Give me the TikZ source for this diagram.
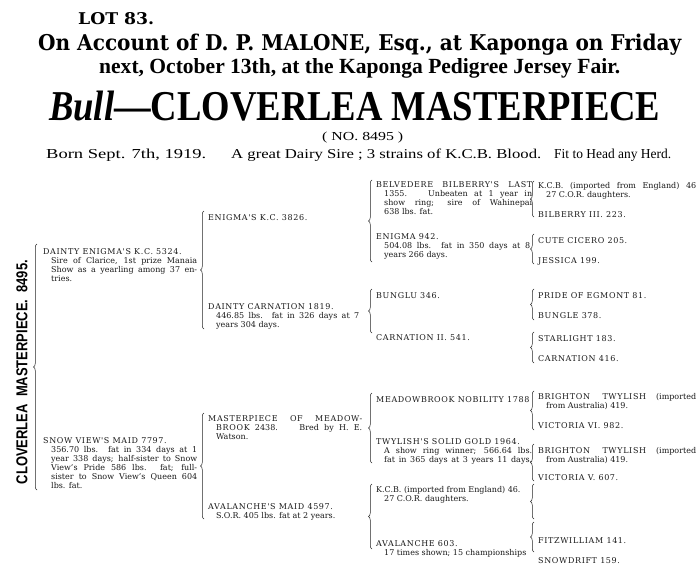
\documentclass[tikz,border=0pt]{standalone}
\usepackage{fontspec}
\usepackage{graphicx}
\setmainfont{DejaVu Serif}
\newfontfamily\pedc[LetterSpace=8]{DejaVu Serif}
\newfontfamily\libs{Liberation Serif}
\newfontfamily\libsans{Liberation Sans}
\usetikzlibrary{decorations.pathreplacing}
\newcommand{\jl}[2]{\hspace*{8pt}\makebox[#1][s]{#2}}
\newcommand{\il}[1]{\hspace*{8pt}#1}
\newcommand{\cp}[1]{{\pedc #1}}
\tikzset{
  ped/.style={font=\fontsize{8}{9}\selectfont, inner sep=0pt, anchor=north west, align=left, text=black!90},
  head/.style={inner sep=0pt, anchor=base west, text=black},
  brc/.style={decorate, decoration={brace, amplitude=3.5pt, aspect=0.5}, line width=0.5pt, draw=black!85}
}
\begin{document}
\begin{tikzpicture}[x=1pt,y=-1pt]
\fill[white] (0,0) rectangle (700,568);
\useasboundingbox (0,0) rectangle (700,568);
% headline
\node[head] (lot) at (78,24) {\resizebox{76pt}{12pt}{\bfseries LOT 83.}};
\node[head] (acc) at (38,50) {\resizebox{643pt}{16.5pt}{\bfseries On Account of D. P. MALONE, Esq., at Kaponga on Friday}};
\node[head] (nxt) at (99,73) {\resizebox{521pt}{15pt}{\libs\bfseries next, October 13th, at the Kaponga Pedigree Jersey Fair.}};
\node[head] (ttl) at (49,120) {\resizebox{611pt}{29.5pt}{\libs\bfseries{\itshape Bull}—CLOVERLEA MASTERPIECE}};
\node[head] (no) at (322,140) {\resizebox{81pt}{8.5pt}{\libs ( NO. 8495 )}};
\node[head] (born1) at (46,158) {\resizebox{160pt}{9.5pt}{\libs Born Sept. 7th, 1919.}};
\node[head] (born2) at (231,158) {\resizebox{310pt}{9.5pt}{\libs A great Dairy Sire ; 3 strains of K.C.B. Blood.}};
\node[head] (born3) at (554,158) {\resizebox{117pt}{9.5pt}{\libs Fit to Head any Herd.}};
% vertical name
\node[rotate=90, inner sep=0pt] (vt) at (22,372) {\resizebox{224pt}{11pt}{\libsans\bfseries CLOVERLEA\ \ MASTERPIECE.\ \ 8495.}};
% column 1
\node[ped] (dainty) at (43,248) {\cp{DAINTY ENIGMA'S K.C. 5324.}\\
\jl{146pt}{Sire of Clarice, 1st prize Manaia}\\
\jl{146pt}{Show as a yearling among 37 en-}\\
\il{tries.}};
\node[ped] (snow) at (43,437) {\cp{SNOW VIEW'S MAID 7797.}\\
\jl{146pt}{356.70 lbs. fat in 334 days at 1}\\
\jl{146pt}{year 338 days; half-sister to Snow}\\
\jl{146pt}{View's Pride 586 lbs. fat; full-}\\
\jl{146pt}{sister to Snow View's Queen 604}\\
\il{lbs. fat.}};
% column 2
\node[ped] (enigkc) at (208,214) {\cp{ENIGMA'S K.C. 3826.}};
\node[ped] (dcarn) at (208,303) {\cp{DAINTY CARNATION 1819.}\\
\jl{143pt}{446.85 lbs. fat in 326 days at 7}\\
\il{years 304 days.}};
\node[ped] (mastm) at (208,415) {\makebox[154pt][s]{\cp{MASTERPIECE OF MEADOW-}}\\
\jl{146pt}{\cp{BROOK} 2438.\hspace{10pt} Bred by H. E.}\\
\il{Watson.}};
\node[ped] (avmaid) at (208,503) {\cp{AVALANCHE'S MAID 4597.}\\
\il{S.O.R. 405 lbs. fat at 2 years.}};
% column 3
\node[ped] (belv) at (376,181) {\makebox[156pt][s]{\cp{BELVEDERE BILBERRY'S LAST}}\\
\jl{148pt}{1355.\hspace{6pt} Unbeaten at 1 year in}\\
\jl{148pt}{show ring; sire of Wahinepai}\\
\il{638 lbs. fat.}};
\node[ped] (enig942) at (376,233) {\cp{ENIGMA 942.}\\
\jl{146pt}{504.08 lbs. fat in 350 days at 8}\\
\il{years 266 days.}};
\node[ped] (bunglu) at (376,292) {\cp{BUNGLU 346.}};
\node[ped] (carn2) at (376,334) {\cp{CARNATION II. 541.}};
\node[ped] (meadn) at (376,396) {\cp{MEADOWBROOK NOBILITY 1788}};
\node[ped] (twyl) at (376,438) {\cp{TWYLISH'S SOLID GOLD 1964.}\\
\jl{148pt}{A show ring winner; 566.64 lbs.}\\
\jl{148pt}{fat in 365 days at 3 years 11 days.}};
\node[ped] (kcb3) at (376,486) {K.C.B. (imported from England) 46.\\
\il{27 C.O.R. daughters.}};
\node[ped] (aval) at (376,540) {\cp{AVALANCHE 603.}\\
\il{17 times shown; 15 championships}};
% column 4
\node[ped] (kcb4) at (538,182) {\makebox[158pt][s]{K.C.B. (imported from England) 46}\\
\il{27 C.O.R. daughters.}};
\node[ped] (bilb) at (538,211) {\cp{BILBERRY III. 223.}};
\node[ped] (cute) at (538,237) {\cp{CUTE CICERO 205.}};
\node[ped] (jess) at (538,257) {\cp{JESSICA 199.}};
\node[ped] (pride) at (538,292) {\cp{PRIDE OF EGMONT 81.}};
\node[ped] (bungle) at (538,312) {\cp{BUNGLE 378.}};
\node[ped] (star) at (538,335) {\cp{STARLIGHT 183.}};
\node[ped] (carn416) at (538,355) {\cp{CARNATION 416.}};
\node[ped] (brig1) at (538,393) {\makebox[158pt][s]{\cp{BRIGHTON TWYLISH} (imported}\\
\il{from Australia) 419.}};
\node[ped] (vic6) at (538,422) {\cp{VICTORIA VI. 982.}};
\node[ped] (brig2) at (538,447) {\makebox[158pt][s]{\cp{BRIGHTON TWYLISH} (imported}\\
\il{from Australia) 419.}};
\node[ped] (vic5) at (538,474) {\cp{VICTORIA V. 607.}};
\node[ped] (fitz) at (538,537) {\cp{FITZWILLIAM 141.}};
\node[ped] (snowd) at (538,557) {\cp{SNOWDRIFT 159.}};
% braces
\foreach \n/\x/\t/\b in {bl/37/244/490, bca/204/211/329, bcb/204/413/519,
  bda/372/180/262, bdb/372/289/333, bdc/372/393/463, bdd/372/484/549,
  bea/534/181/217, beb/534/234/264, bec/534/289/320, bed/534/332/363,
  bee/534/391/430, bef/534/444/481, beg/534/484/519, beh/534/522/552}{
  \coordinate (\n t) at (\x,\t);
  \coordinate (\n b) at (\x,\b);
  \draw[brc] (\n b) -- (\n t);
}
\end{tikzpicture}
\end{document}
